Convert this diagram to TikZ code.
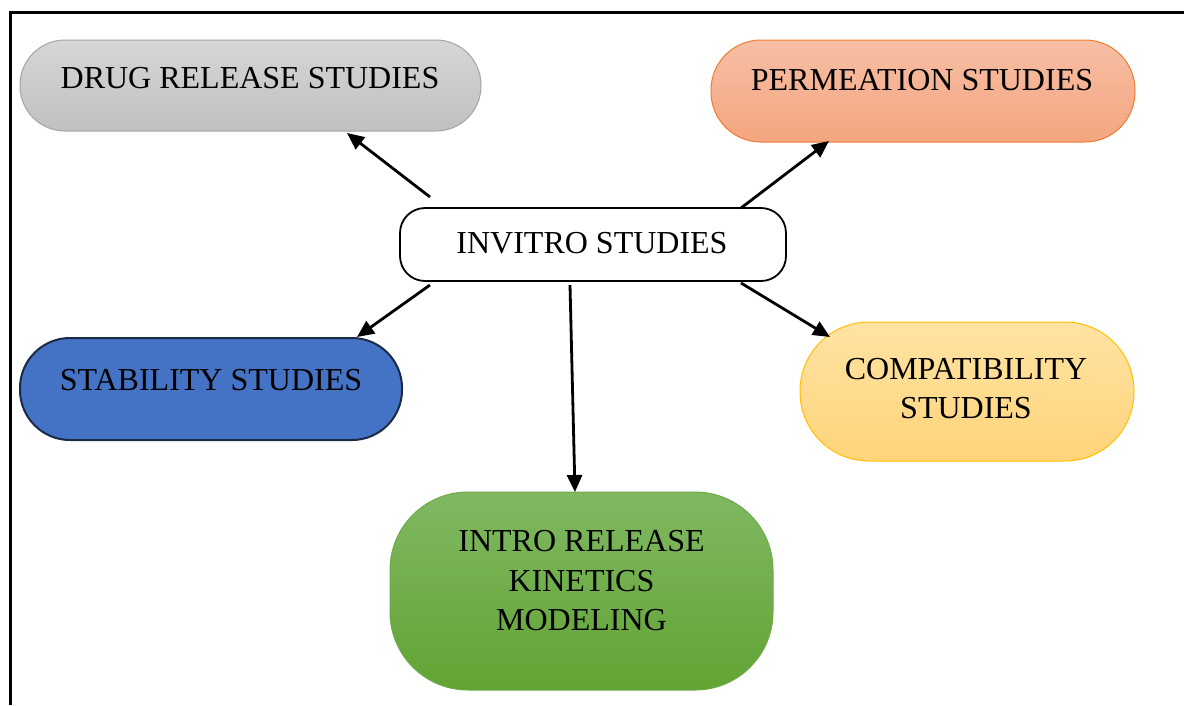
\documentclass[tikz,border=0pt]{standalone}
\usepackage{fontspec}
\setmainfont{Liberation Serif}
\usetikzlibrary{arrows.meta}
\definecolor{drugtop}{HTML}{D6D6D6}
\definecolor{drugbot}{HTML}{C0C0C0}
\definecolor{drugln}{HTML}{A5A5A5}
\definecolor{permtop}{HTML}{F7BFA5}
\definecolor{permbot}{HTML}{F4A57F}
\definecolor{permln}{HTML}{ED7D31}
\definecolor{stabfill}{HTML}{4472C4}
\definecolor{stabln}{HTML}{1B2A47}
\definecolor{comptop}{HTML}{FFE3A3}
\definecolor{compbot}{HTML}{FFD47A}
\definecolor{compln}{HTML}{FFC000}
\definecolor{introtop}{HTML}{80B862}
\definecolor{introbot}{HTML}{61A433}
\definecolor{introln}{HTML}{6EAA48}
\tikzset{
  boxshape/.style={draw, inner sep=0pt, outer sep=0pt, line width=1pt},
  lbl/.style={inner sep=0pt, align=center, font=\fontsize{32}{39.5}\selectfont},
  conn/.style={line width=2.8pt, -{Triangle[length=17pt,width=15pt]}}
}
\begin{document}
\begin{tikzpicture}[x=1pt,y=-1pt]
\useasboundingbox (0,0) rectangle (1184,705);
% frame
\draw[line width=3pt] (10,705) -- (10,12) -- (1184,12);
% shapes
\node[boxshape, draw=drugln, top color=drugtop, bottom color=drugbot, rounded corners=45pt,
      minimum width=461pt, minimum height=91pt] (drug) at (250.5,85.5) {};
\node[boxshape, draw=permln, top color=permtop, bottom color=permbot, rounded corners=50pt,
      minimum width=424pt, minimum height=102pt] (perm) at (923,91) {};
\node[boxshape, draw=black, line width=1.8pt, fill=white, rounded corners=25pt,
      minimum width=386pt, minimum height=73pt] (inv) at (593,244.5) {};
\node[boxshape, draw=stabln, line width=2pt, fill=stabfill, rounded corners=50pt,
      minimum width=382pt, minimum height=102pt] (stab) at (211,389) {};
\node[boxshape, draw=compln, top color=comptop, bottom color=compbot, rounded corners=69pt,
      minimum width=334pt, minimum height=139pt] (comp) at (967,391.5) {};
\node[boxshape, draw=introln, top color=introtop, bottom color=introbot, rounded corners=78pt,
      minimum width=383pt, minimum height=198pt] (intro) at (581.5,591) {};
% labels
\node[lbl] (drugT) at (250,78) {DRUG RELEASE STUDIES};
\node[lbl] (permT) at (922,80) {PERMEATION STUDIES};
\node[lbl] (invT) at (592,243) {INVITRO STUDIES};
\node[lbl] (stabT) at (211,380) {STABILITY STUDIES};
\node[lbl] (compT) at (966,388.5) {COMPATIBILITY\\STUDIES};
\node[lbl] (introT) at (581.5,581) {INTRO RELEASE\\KINETICS\\MODELING};
% connector ends
\coordinate (s1) at (430,197);
\coordinate (e1) at (347,133);
\coordinate (s2) at (741,208);
\coordinate (e2) at (829,141);
\coordinate (s3) at (430,285);
\coordinate (e3) at (357,337);
\coordinate (s4) at (570,285);
\coordinate (e4) at (575,492);
\coordinate (s5) at (741,283);
\coordinate (e5) at (830,337);
\draw[conn] (s1) -- (e1);
\draw[conn] (s2) -- (e2);
\draw[conn] (s3) -- (e3);
\draw[conn] (s4) -- (e4);
\draw[conn] (s5) -- (e5);
\end{tikzpicture}
\end{document}
